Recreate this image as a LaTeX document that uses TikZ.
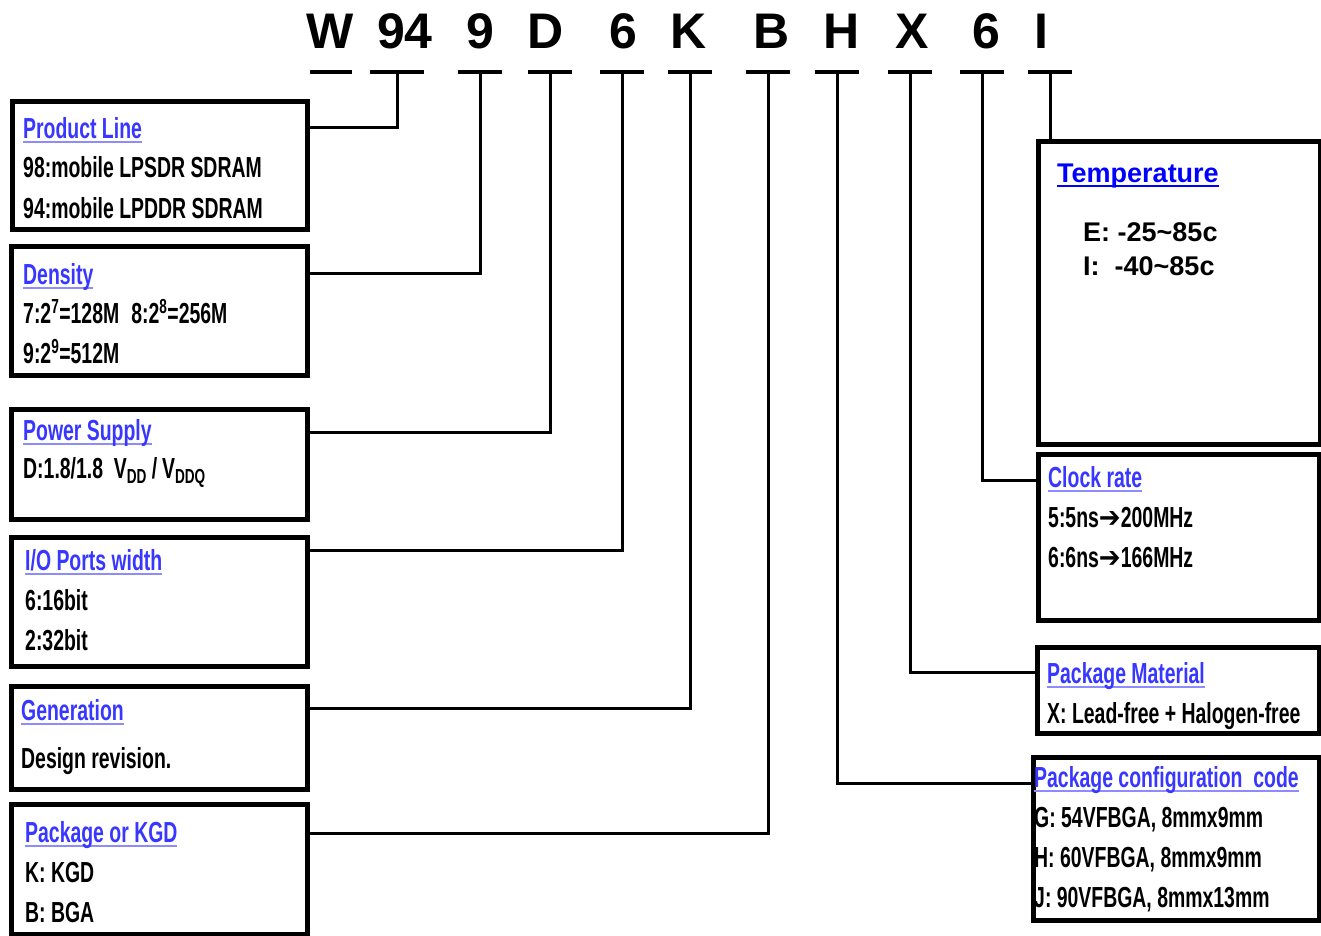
\documentclass[tikz,border=0pt]{standalone}
\usepackage{fontspec}
\setmainfont{Liberation Sans}
\newfontfamily\narrowfont[FakeStretch=0.67]{Liberation Sans Bold}
\newfontfamily\arrowfont[FakeStretch=0.9]{DejaVu Sans Bold}
\usepackage{tikz}
\usetikzlibrary{positioning}
\definecolor{titleblue}{RGB}{55,55,255}
\definecolor{ulblue}{RGB}{140,140,255}
\newsavebox{\ulsave}
\newcommand{\titleul}[2][ulblue]{\sbox{\ulsave}{#2}\rlap{\color{#1}\rule[-5pt]{\wd\ulsave}{2pt}}\usebox{\ulsave}}

\begin{document}
\begin{tikzpicture}[x=1pt, y=-1pt,
    code/.style={anchor=base, inner sep=0pt, font=\fontsize{50}{50}\selectfont\bfseries},
    bar/.style={fill=black, inner sep=0pt, minimum height=4pt},
    infobox/.style={draw, line width=4.5pt, anchor=north west, inner sep=0pt},
    wire/.style={line width=3pt},
    title/.style={anchor=base west, inner sep=0pt, text=titleblue, font=\narrowfont\fontsize{29}{29}\selectfont},
    body/.style={anchor=base west, inner sep=0pt, font=\narrowfont\fontsize{29}{29}\selectfont},
    wide/.style={anchor=base west, inner sep=0pt, font=\fontsize{27}{27}\selectfont\bfseries}]
    \path[fill=white, use as bounding box] (0,0) rectangle (1321,935);

    % Part number and the bars under it
    \foreach \n/\c/\x in {1/W/330, 2/94/405, 3/9/480, 4/D/546, 5/6/623, 6/K/689, 7/B/772, 8/H/842, 9/X/912, 10/6/986, 11/I/1041} {
        \node[code] (c\n) at (\x,48) {\c};
    }
    \foreach \n/\x/\w in {bW/331/42, b94/397/54, b9/480/44, bD/550/44, b6a/622/44, bK/690/44, bB/768/44, bH/837/44, bX/910/44, b6b/982/44, bI/1050/44} {
        \node[bar, minimum width=\w pt] (\n) at (\x,72) {};
    }

    % Left boxes
    \node[infobox, minimum width=295pt, minimum height=128pt] (prod) at (10,99) {};
    \node[title] (prodT) at (23,138) {\titleul{Product Line}};
    \node[body] (prod1) at (23,177) {98:mobile LPSDR SDRAM};
    \node[body] (prod2) at (23,218) {94:mobile LPDDR SDRAM};

    \node[infobox, minimum width=296pt, minimum height=129pt] (dens) at (9,244) {};
    \node[title] (densT) at (23,284) {\titleul{Density}};
    \node[body] (dens1) at (23,323) {7:2\textsuperscript{7}=128M\hspace{12pt}8:2\textsuperscript{8}=256M};
    \node[body] (dens2) at (23,363) {9:2\textsuperscript{9}=512M};

    \node[infobox, minimum width=296pt, minimum height=110pt] (power) at (9,407) {};
    \node[title] (powerT) at (23,440) {\titleul{Power Supply}};
    \node[body] (power1) at (23,478) {D:1.8/1.8\ \ V\textsubscript{DD}\,/\,V\textsubscript{DDQ}};

    \node[infobox, minimum width=296pt, minimum height=129pt] (io) at (9,535) {};
    \node[title] (ioT) at (25,570) {\titleul{I/O Ports width}};
    \node[body] (io1) at (25,610) {6:16bit};
    \node[body] (io2) at (25,650) {2:32bit};

    \node[infobox, minimum width=296pt, minimum height=103pt] (gen) at (9,684) {};
    \node[title] (genT) at (21,720) {\titleul{Generation}};
    \node[body] (gen1) at (21,768) {Design revision.};

    \node[infobox, minimum width=296pt, minimum height=130pt] (kgd) at (9,802) {};
    \node[title] (kgdT) at (25,842) {\titleul{Package or KGD}};
    \node[body] (kgd1) at (25,882) {K: KGD};
    \node[body] (kgd2) at (25,922) {B: BGA};

    % Right boxes
    \node[infobox, minimum width=282pt, minimum height=303pt] (temp) at (1036,139) {};
    \node[wide, text=blue] (tempT) at (1057,182) {\titleul[blue]{Temperature}};
    \node[wide] (temp1) at (1083,241) {E:\ -25\textasciitilde85c};
    \node[wide] (temp2) at (1083,275) {I:\ \ -40\textasciitilde85c};

    \node[infobox, minimum width=281pt, minimum height=166pt] (clock) at (1036,452) {};
    \node[title] (clockT) at (1048,487) {\titleul{Clock rate}};
    \node[body] (clock1) at (1048,527) {5:5ns{\arrowfont ➔}200MHz};
    \node[body] (clock2) at (1048,567) {6:6ns{\arrowfont ➔}166MHz};

    \node[infobox, minimum width=282pt, minimum height=86pt] (mat) at (1035,645) {};
    \node[title] (matT) at (1047,683) {\titleul{Package Material}};
    \node[body] (mat1) at (1047,723) {X: Lead-free + Halogen-free};

    \node[infobox, minimum width=286pt, minimum height=163pt] (cfg) at (1031,755) {};
    \node[title] (cfgT) at (1034,787) {\titleul{Package configuration\ \ code}};
    \node[body] (cfg1) at (1034,827) {G: 54VFBGA, 8mmx9mm};
    \node[body] (cfg2) at (1034,867) {H: 60VFBGA, 8mmx9mm};
    \node[body] (cfg3) at (1034,907) {J: 90VFBGA, 8mmx13mm};

    % Connectors
    \draw[wire] (b94.center) |- ([yshift=-28pt]prod.north east);
    \draw[wire] (b9.center) |- ([yshift=-29pt]dens.north east);
    \draw[wire] (bD.center) |- ([yshift=-25pt]power.north east);
    \draw[wire] (b6a.center) |- ([yshift=-15pt]io.north east);
    \draw[wire] (bK.center) |- ([yshift=-24pt]gen.north east);
    \draw[wire] (bB.center) |- ([yshift=-31pt]kgd.north east);
    \draw[wire] (bI.center) -- (bI.center |- temp.north);
    \draw[wire] (b6b.center) |- ([yshift=-28pt]clock.north west);
    \draw[wire] (bX.center) |- ([yshift=-27pt]mat.north west);
    \draw[wire] (bH.center) |- ([yshift=-28pt]cfg.north west);
\end{tikzpicture}
\end{document}
